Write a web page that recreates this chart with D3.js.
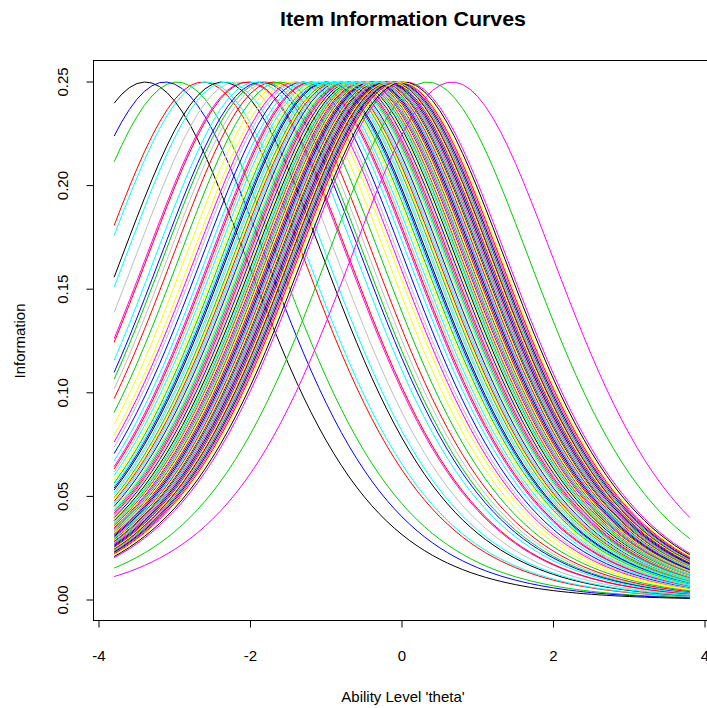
<!DOCTYPE html>
<html>
<head>
<meta charset="utf-8">
<script src="https://cdn.jsdelivr.net/npm/d3@7"></script>
<style>
  body { margin: 0; background: #fff; }
  text { font-family: "Liberation Sans", Arial, sans-serif; fill: #000; }
</style>
</head>
<body>
<div class="chart"></div>
<script>
// item difficulties, grouped by R palette colour (item i gets palette[i % 8])
const bBlack   = [-3.39, -2.37, -0.98, -0.62, -0.45, -0.38, -0.30, -0.22, -0.15, -0.08, 0.02]
const bRed     = [-2.63, -2.03, -1.70, -1.18, -0.86, -0.70, -0.55, -0.42, -0.33, -0.18, -0.04]
const bGreen   = [-2.97, -1.82, -1.61, -1.05, -0.90, -0.74, -0.58, -0.48, -0.26, -0.12, 0.34]
const bBlue    = [-3.13, -1.86, -1.31, -1.00, -0.80, -0.66, -0.52, -0.40, -0.28, -0.20, -0.10]
const bCyan    = [-2.58, -2.32, -1.93, -1.25, -1.12, -1.02, -0.95, -0.84, -0.76, -0.60, -0.35]
const bMagenta = [-2.05, -1.40, -1.20, -0.72, -0.50, -0.36, -0.24, -0.14, -0.06, 0.05, 0.66]
const bYellow  = [-1.53, -1.45, -1.08, -0.88, -0.78, -0.64, -0.53, -0.44, -0.31, -0.16, -0.02]
const bGray    = [-2.19, -1.76, -1.36, -1.15, -0.93, -0.82, -0.68, -0.56, -0.46, -0.27, -0.11]

const palette = ['#000000', '#FF0000', '#00CD00', '#0000FF', '#00FFFF', '#FF00FF', '#FFFF00', '#BEBEBE']
const xTicks = [-4, -2, 0, 2, 4]
const yTicks = [0, 0.05, 0.10, 0.15, 0.20, 0.25]
const thetaMin = -3.8, thetaMax = 3.8

const width = 707, height = 708

// interleave groups back into item order
const groups = [bBlack, bRed, bGreen, bBlue, bCyan, bMagenta, bYellow, bGray]
const items = []
for (let k = 0; k < bBlack.length; k++) {
    groups.forEach((g, c) => items.push({b: g[k], col: palette[c]}))
}

const theta = d3.range(thetaMin, thetaMax + 1e-9, 0.1)
const info = (t, b) => {
    const p = 1 / (1 + Math.exp(-(t - b)))
    return p * (1 - p)
}

const svg = d3.select('.chart').append('svg')
    .attr('width', width).attr('height', height)

const x = d3.scaleLinear().domain([-4, 4]).range([99, 705])
const y = d3.scaleLinear().domain([0, 0.25]).range([600, 82])

const plot = svg.append('g')
const line = d3.line()
    .x(d => x(d[0]))
    .y(d => y(d[1]))

plot.selectAll('path.curve')
    .data(items)
    .enter()
    .append('path')
    .attr('class', 'curve')
    .attr('fill', 'none')
    .attr('stroke', d => d.col)
    .attr('stroke-width', 1)
    .attr('d', d => line(theta.map(t => [t, info(t, d.b)])))

// frame
svg.append('rect')
    .attr('x', 93.5).attr('y', 60.5)
    .attr('width', 630).attr('height', 560)
    .attr('fill', 'none').attr('stroke', '#000').attr('stroke-width', 1)

// x axis
const xAxis = svg.append('g').attr('transform', 'translate(0,620.5)')
xAxis.selectAll('line').data(xTicks).enter().append('line')
    .attr('x1', d => x(d)).attr('x2', d => x(d))
    .attr('y1', 0).attr('y2', 7)
    .attr('stroke', '#000')
xAxis.selectAll('text').data(xTicks).enter().append('text')
    .attr('x', d => x(d)).attr('y', 40)
    .attr('text-anchor', 'middle')
    .attr('font-size', 15)
    .text(d => d)

// y axis
const yAxis = svg.append('g').attr('transform', 'translate(93.5,0)')
yAxis.selectAll('line').data(yTicks).enter().append('line')
    .attr('x1', 0).attr('x2', -7)
    .attr('y1', d => y(d)).attr('y2', d => y(d))
    .attr('stroke', '#000')
yAxis.selectAll('text').data(yTicks).enter().append('text')
    .attr('transform', d => 'translate(-26,' + y(d) + ') rotate(-90)')
    .attr('text-anchor', 'middle')
    .attr('font-size', 15)
    .text(d => d.toFixed(2))

svg.append('text')
    .attr('x', 403).attr('y', 26)
    .attr('text-anchor', 'middle')
    .attr('font-size', 20).attr('font-weight', 'bold')
    .attr('textLength', 246).attr('lengthAdjust', 'spacingAndGlyphs')
    .text('Item Information Curves')

svg.append('text')
    .attr('x', 403).attr('y', 702)
    .attr('text-anchor', 'middle')
    .attr('font-size', 15)
    .text("Ability Level 'theta'")

svg.append('text')
    .attr('transform', 'translate(25,341) rotate(-90)')
    .attr('text-anchor', 'middle')
    .attr('font-size', 15)
    .text('Information')
</script>
</body>
</html>
